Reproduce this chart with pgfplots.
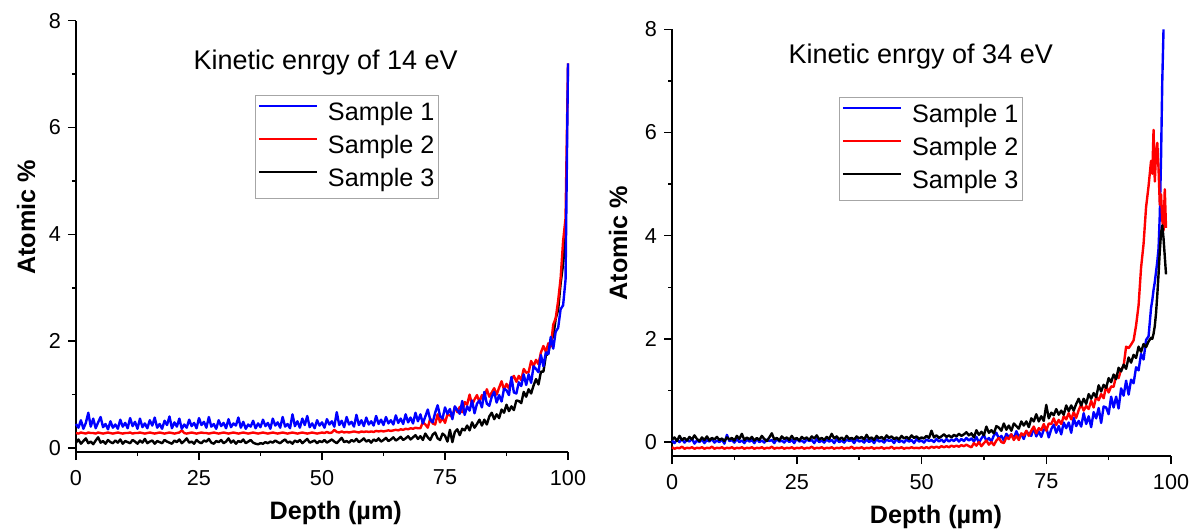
\documentclass[border=0pt]{standalone}
\usepackage{fontspec}
\setmainfont{Liberation Sans}
\usepackage{pgfplots}
\usepackage{pgfplotstable}
\pgfplotsset{compat=1.18}

\pgfplotstableread{
x b r k
0 0.45 0.28 0.10
0.5 0.38 0.27 0.16
1 0.52 0.29 0.08
1.5 0.36 0.28 0.13
2 0.47 0.27 0.18
2.5 0.66 0.29 0.09
3 0.40 0.28 0.12
3.5 0.55 0.28 0.07
4 0.37 0.27 0.14
4.5 0.48 0.29 0.20
5 0.58 0.28 0.10
5.5 0.39 0.27 0.13
6 0.45 0.28 0.08
6.5 0.35 0.29 0.15
7 0.50 0.28 0.11
7.5 0.38 0.27 0.09
8 0.44 0.28 0.14
8.5 0.36 0.29 0.10
9 0.53 0.28 0.16
9.5 0.40 0.27 0.08
10 0.47 0.28 0.13
10.5 0.37 0.28 0.11
11 0.56 0.29 0.09
11.5 0.41 0.27 0.15
12 0.49 0.28 0.12
12.5 0.36 0.28 0.08
13 0.55 0.29 0.14
13.5 0.39 0.28 0.10
14 0.46 0.27 0.17
14.5 0.37 0.28 0.09
15 0.52 0.29 0.12
15.5 0.42 0.28 0.14
16 0.57 0.27 0.08
16.5 0.38 0.28 0.13
17 0.45 0.29 0.11
17.5 0.36 0.28 0.09
18 0.51 0.27 0.15
18.5 0.43 0.28 0.12
19 0.59 0.29 0.10
19.5 0.37 0.28 0.08
20 0.48 0.27 0.14
20.5 0.40 0.28 0.11
21 0.55 0.29 0.16
21.5 0.36 0.33 0.09
22 0.44 0.28 0.13
22.5 0.38 0.27 0.18
23 0.53 0.28 0.10
23.5 0.41 0.29 0.12
24 0.47 0.28 0.08
24.5 0.37 0.27 0.15
25 0.56 0.28 0.11
25.5 0.43 0.29 0.09
26 0.49 0.28 0.14
26.5 0.38 0.28 0.12
27 0.58 0.27 0.17
27.5 0.40 0.28 0.10
28 0.45 0.29 0.08
28.5 0.36 0.28 0.13
29 0.52 0.27 0.11
29.5 0.41 0.28 0.15
30 0.47 0.29 0.09
30.5 0.37 0.28 0.12
31 0.54 0.27 0.18
31.5 0.39 0.28 0.10
32 0.46 0.29 0.14
32.5 0.42 0.28 0.08
33 0.57 0.27 0.13
33.5 0.38 0.28 0.11
34 0.49 0.29 0.16
34.5 0.36 0.28 0.09
35 0.44 0.27 0.12
35.5 0.40 0.28 0.15
36 0.51 0.29 0.10
36.5 0.37 0.28 0.08
37 0.46 0.27 0.07
37.5 0.39 0.28 0.09
38 0.53 0.29 0.08
38.5 0.41 0.28 0.11
39 0.47 0.27 0.09
39.5 0.36 0.28 0.12
40 0.55 0.29 0.10
40.5 0.42 0.28 0.14
41 0.48 0.27 0.11
41.5 0.38 0.28 0.09
42 0.58 0.29 0.13
42.5 0.40 0.28 0.16
43 0.45 0.27 0.10
43.5 0.37 0.28 0.12
44 0.63 0.29 0.08
44.5 0.41 0.28 0.14
45 0.50 0.27 0.11
45.5 0.38 0.28 0.15
46 0.55 0.29 0.09
46.5 0.43 0.28 0.13
47 0.60 0.27 0.17
47.5 0.39 0.28 0.10
48 0.46 0.29 0.12
48.5 0.37 0.28 0.14
49 0.52 0.27 0.09
49.5 0.42 0.28 0.13
50 0.48 0.29 0.11
50.5 0.38 0.28 0.15
51 0.54 0.30 0.10
51.5 0.44 0.28 0.13
52 0.50 0.29 0.16
52.5 0.40 0.34 0.12
53 0.67 0.30 0.09
53.5 0.43 0.29 0.14
54 0.51 0.31 0.19
54.5 0.39 0.29 0.11
55 0.58 0.30 0.13
55.5 0.44 0.29 0.10
56 0.49 0.30 0.15
56.5 0.40 0.31 0.12
57 0.62 0.30 0.17
57.5 0.43 0.29 0.11
58 0.52 0.31 0.14
58.5 0.41 0.30 0.18
59 0.57 0.31 0.12
59.5 0.44 0.30 0.15
60 0.50 0.31 0.10
60.5 0.42 0.30 0.16
61 0.60 0.32 0.13
61.5 0.45 0.31 0.18
62 0.53 0.32 0.12
62.5 0.43 0.31 0.15
63 0.58 0.32 0.19
63.5 0.46 0.33 0.13
64 0.52 0.32 0.16
64.5 0.44 0.33 0.20
65 0.61 0.34 0.14
65.5 0.47 0.33 0.17
66 0.55 0.35 0.21
66.5 0.45 0.34 0.15
67 0.63 0.36 0.18
67.5 0.48 0.35 0.22
68 0.57 0.37 0.16
68.5 0.46 0.36 0.20
69 0.66 0.38 0.24
69.5 0.50 0.37 0.17
70 0.63 0.37 0.22
70.5 0.46 0.48 0.15
71 0.59 0.44 0.27
71.5 0.72 0.38 0.20
72 0.53 0.55 0.15
72.5 0.48 0.46 0.25
73 0.66 0.44 0.29
73.5 0.80 0.63 0.18
74 0.60 0.48 0.15
74.5 0.55 0.57 0.27
75 0.76 0.47 0.23
75.5 0.64 0.63 0.12
76 0.73 0.61 0.34
76.5 0.54 0.58 0.11
77 0.78 0.77 0.30
77.5 0.71 0.67 0.35
78 0.64 0.77 0.24
78.5 0.88 0.67 0.36
79 0.62 0.86 0.33
79.5 0.78 0.81 0.42
80 0.70 1.00 0.33
80.5 0.89 0.81 0.48
81 0.65 0.91 0.38
81.5 0.83 0.99 0.45
82 0.89 0.86 0.53
82.5 0.76 0.99 0.42
83 1.05 0.94 0.53
83.5 0.83 1.10 0.44
84 0.79 0.96 0.59
84.5 0.96 1.04 0.66
85 1.05 1.12 0.54
85.5 0.85 1.00 0.63
86 0.99 1.13 0.56
86.5 0.87 1.25 0.72
87 1.11 1.09 0.66
87.5 1.08 1.20 0.81
88 0.99 1.11 0.69
88.5 1.33 1.29 0.78
89 1.04 1.35 0.71
89.5 1.02 1.24 0.89
90 1.23 1.35 0.88
90.5 1.16 1.27 0.84
91 1.38 1.48 1.05
91.5 1.18 1.41 0.96
92 1.38 1.42 1.10
92.5 1.22 1.63 1.02
93 1.53 1.53 1.17
93.5 1.48 1.65 1.29
94 1.42 1.57 1.19
94.5 1.74 1.79 1.43
95 1.53 1.91 1.43
95.5 1.79 1.80 1.73
96 1.76 1.96 1.77
96.5 2.08 1.90 2.03
97 1.86 2.31 2.08
97.5 2.18 2.43 2.42
98 2.25 2.76 2.59
98.5 2.60 3.18 3.08
99 2.67 3.87 3.44
99.5 3.15 4.30 3.95
100 7.20 7.20 nan
}\leftdata

\pgfplotstableread{
x b r k
0 0.03 -0.10 0.05
0.5 -0.02 -0.13 0.09
1 0.05 -0.11 0.02
1.5 0.00 -0.12 0.12
2 0.06 -0.09 0.04
2.5 -0.01 -0.13 0.08
3 0.04 -0.11 0.03
3.5 0.01 -0.12 0.10
4 0.07 -0.10 0.05
4.5 -0.03 -0.13 0.13
5 0.03 -0.11 0.06
5.5 0.00 -0.12 0.02
6 0.05 -0.10 0.09
6.5 -0.02 -0.13 0.04
7 0.04 -0.11 0.11
7.5 0.01 -0.12 0.03
8 0.06 -0.09 0.08
8.5 -0.01 -0.13 0.05
9 0.03 -0.11 0.10
9.5 0.00 -0.12 0.04
10 0.05 -0.10 0.07
10.5 -0.03 -0.13 0.02
11 0.14 -0.11 0.09
11.5 0.02 -0.12 0.05
12 0.04 -0.10 0.08
12.5 -0.01 -0.13 0.03
13 0.06 -0.11 0.12
13.5 0.00 -0.12 0.06
14 0.03 -0.10 0.16
14.5 -0.02 -0.13 0.04
15 0.05 -0.11 0.09
15.5 0.01 -0.12 0.05
16 0.04 -0.10 0.10
16.5 -0.02 -0.13 0.03
17 0.06 -0.11 0.08
17.5 0.00 -0.12 0.04
18 0.03 -0.10 0.12
18.5 -0.01 -0.13 0.06
19 0.05 -0.11 0.02
19.5 0.02 -0.12 0.09
20 0.04 -0.09 0.17
20.5 -0.02 -0.13 0.05
21 0.06 -0.11 0.08
21.5 0.01 -0.12 0.03
22 0.03 -0.10 0.11
22.5 -0.01 -0.13 0.06
23 0.05 -0.11 0.09
23.5 0.00 -0.12 0.04
24 0.04 -0.10 0.12
24.5 -0.02 -0.13 0.05
25 0.07 -0.11 0.08
25.5 0.01 -0.12 0.03
26 0.03 -0.10 0.10
26.5 -0.01 -0.13 0.06
27 0.05 -0.11 0.09
27.5 0.02 -0.12 0.04
28 0.04 -0.09 0.11
28.5 -0.02 -0.13 0.07
29 0.06 -0.11 0.13
29.5 0.00 -0.12 0.05
30 0.03 -0.10 0.08
30.5 -0.01 -0.13 0.04
31 0.05 -0.11 0.10
31.5 0.01 -0.12 0.06
32 0.04 -0.10 0.16
32.5 -0.02 -0.13 0.07
33 0.06 -0.11 0.11
33.5 0.00 -0.12 0.05
34 0.03 -0.10 0.09
34.5 -0.01 -0.13 0.04
35 0.05 -0.11 0.12
35.5 0.02 -0.12 0.06
36 0.04 -0.09 0.08
36.5 -0.02 -0.13 0.05
37 0.06 -0.11 0.11
37.5 0.01 -0.12 0.07
38 0.03 -0.10 0.10
38.5 -0.01 -0.13 0.05
39 0.05 -0.11 0.14
39.5 0.00 -0.12 0.06
40 0.04 -0.10 0.09
40.5 -0.02 -0.13 0.04
41 0.06 -0.11 0.12
41.5 0.01 -0.12 0.07
42 0.03 -0.10 0.10
42.5 -0.01 -0.13 0.05
43 0.05 -0.11 0.13
43.5 0.02 -0.12 0.08
44 0.04 -0.09 0.11
44.5 -0.02 -0.13 0.06
45 0.06 -0.11 0.09
45.5 0.00 -0.12 0.05
46 0.03 -0.10 0.12
46.5 -0.01 -0.13 0.07
47 0.05 -0.11 0.10
47.5 0.01 -0.12 0.06
48 0.04 -0.10 0.13
48.5 -0.02 -0.12 0.08
49 0.06 -0.11 0.11
49.5 0.01 -0.12 0.06
50 0.03 -0.10 0.09
50.5 -0.01 -0.12 0.07
51 0.05 -0.10 0.12
51.5 0.02 -0.12 0.08
52 0.04 -0.09 0.22
52.5 0.00 -0.11 0.09
53 0.06 -0.09 0.13
53.5 0.01 -0.11 0.08
54 0.05 -0.08 0.11
54.5 0.00 -0.10 0.15
55 0.06 -0.08 0.10
55.5 0.01 -0.10 0.13
56 0.05 -0.07 0.09
56.5 0.02 -0.09 0.14
57 0.07 -0.07 0.11
57.5 0.01 -0.09 0.16
58 0.06 -0.06 0.12
58.5 0.02 -0.08 0.15
59 0.08 -0.05 0.19
59.5 0.03 -0.08 0.13
60 0.07 -0.10 0.17
60.5 0.01 -0.02 0.09
61 0.10 -0.07 0.23
61.5 -0.01 0.00 0.14
62 0.07 -0.08 0.20
62.5 0.14 -0.02 0.13
63 0.02 0.03 0.30
63.5 0.08 -0.05 0.18
64 0.01 0.00 0.23
64.5 0.13 -0.06 0.17
65 0.18 0.03 0.31
65.5 0.07 0.08 0.28
66 0.12 0.00 0.22
66.5 0.03 -0.02 0.36
67 0.16 0.09 0.24
67.5 0.10 0.06 0.32
68 0.15 0.15 0.22
68.5 0.07 0.04 0.36
69 0.21 0.12 0.31
69.5 0.10 0.04 0.26
70 0.15 0.17 0.40
70.5 0.06 0.13 0.32
71 0.21 0.22 0.40
71.5 0.16 0.12 0.29
72 0.12 0.22 0.46
72.5 0.28 0.30 0.40
73 0.11 0.17 0.54
73.5 0.21 0.27 0.40
74 0.10 0.23 0.50
74.5 0.24 0.35 0.41
75 0.28 0.22 0.72
75.5 0.09 0.36 0.46
76 0.25 0.35 0.57
76.5 0.34 0.46 0.52
77 0.18 0.33 0.64
77.5 0.31 0.43 0.53
78 0.15 0.35 0.61
78.5 0.38 0.50 0.53
79 0.27 0.44 0.71
79.5 0.38 0.56 0.60
80 0.18 0.44 0.71
80.5 0.47 0.58 0.61
81 0.31 0.47 0.74
81.5 0.41 0.62 0.84
82 0.30 0.73 0.71
82.5 0.56 0.61 0.84
83 0.35 0.70 0.74
83.5 0.50 0.64 0.93
84 0.29 0.80 0.84
84.5 0.58 0.67 0.95
85 0.46 0.88 0.87
85.5 0.66 0.81 1.10
86 0.37 0.93 0.98
86.5 0.69 0.85 1.11
87 0.67 1.09 1.05
87.5 0.54 0.96 1.24
88 0.88 1.08 1.16
88.5 0.67 1.07 1.31
89 0.88 1.29 1.22
89.5 0.65 1.24 1.44
90 1.04 1.41 1.37
90.5 0.90 1.47 1.50
91 1.19 1.85 1.42
91.5 0.92 1.82 1.64
92 1.21 1.89 1.54
92.5 1.14 1.97 1.69
93 1.45 2.26 1.63
93.5 1.39 2.65 1.85
94 1.71 3.38 1.75
94.5 1.60 3.84 1.90
95 1.98 4.55 1.84
95.5 2.05 4.96 1.95
96 2.60 5.45 2.02
96.25 2.75 5.20 2.00
96.5 2.95 6.05 2.10
96.75 3.10 5.05 2.25
97 3.30 5.60 2.50
97.25 3.50 5.80 2.85
97.5 3.75 5.30 3.25
97.75 4.40 4.60 3.70
98 5.50 4.80 4.05
98.25 7.00 4.30 4.20
98.5 8.00 4.10 3.95
98.75 nan 4.90 3.60
99 nan 4.15 3.25
}\rightdata

\pgfplotsset{
  myaxis/.style={
    scale only axis,
    anchor=south west,
    axis x line*=bottom, axis y line*=left,
    axis line style={line width=0.75pt,-},
    xmin=0, xmax=100, ymax=8,
    xtick={0,25,50,75,100}, ytick={0,2,4,6,8},
    minor x tick num=1, minor y tick num=1,
    tick align=outside,
    major tick length=4pt, minor tick length=2pt,
    every tick/.style={line width=0.75pt, black},
    ticklabel style={font=\fontsize{10.8}{12}\selectfont},
    xticklabel style={yshift=-1.5pt},
    /pgf/number format/assume math mode=true,
    xlabel={Depth (µm)}, ylabel={Atomic \%},
    label style={font=\fontsize{12.6}{15}\selectfont\bfseries},
    legend cell align=left,
    legend style={draw=gray!70, line width=0.5pt, anchor=north west,
      font=\fontsize{12.6}{15}\selectfont,
      inner xsep=1pt, inner ysep=1pt, row sep=0pt,
      /tikz/every odd column/.append style={column sep=4pt},
      nodes={inner sep=1pt, text height=10.5pt, text depth=4pt}},
    legend image code/.code={\draw[#1, line width=1.2pt] (0pt,4pt) -- (29pt,4pt);},
    every axis plot/.append style={line width=1.2pt, line join=round},
    clip=false,
  }
}

\begin{document}
\begin{tikzpicture}
\useasboundingbox (0,0) rectangle (599pt,265.5pt);
\begin{axis}[myaxis,
  at={(38pt,39.5pt)}, width=246pt, height=215.65pt, ymin=-0.075,
  xlabel style={at={(axis description cs:0.528,0)}, anchor=center, yshift=-30.5pt},
  ylabel style={at={(axis description cs:0,0.544)}, anchor=center, yshift=25pt},
  legend style={at={(axis description cs:0.364,0.828)}},
  reverse legend]
\addplot[black] table[x=x,y=k] {\leftdata};
\addplot[red] table[x=x,y=r] {\leftdata};
\addplot[blue] table[x=x,y=b] {\leftdata};
\legend{Sample 3,Sample 2,Sample 1}
\node[anchor=base west, font=\fontsize{13.5}{16}\selectfont, inner sep=0pt] at (axis description cs:0.238,0.887) {Kinetic enrgy of 14 eV};
\end{axis}
\begin{axis}[myaxis,
  at={(336pt,37.5pt)}, width=249.5pt, height=213.35pt, ymin=-0.27,
  xlabel style={at={(axis description cs:0.529,0)}, anchor=center, yshift=-30.3pt},
  ylabel style={at={(axis description cs:0,0.499)}, anchor=center, yshift=27pt},
  legend style={at={(axis description cs:0.335,0.842)}}]
\addplot[blue] table[x=x,y=b] {\rightdata};
\addplot[red] table[x=x,y=r] {\rightdata};
\addplot[black] table[x=x,y=k] {\rightdata};
\legend{Sample 1,Sample 2,Sample 3}
\node[anchor=base west, font=\fontsize{13.5}{16}\selectfont, inner sep=0pt] at (axis description cs:0.233,0.921) {Kinetic enrgy of 34 eV};
\end{axis}
\end{tikzpicture}
\end{document}
